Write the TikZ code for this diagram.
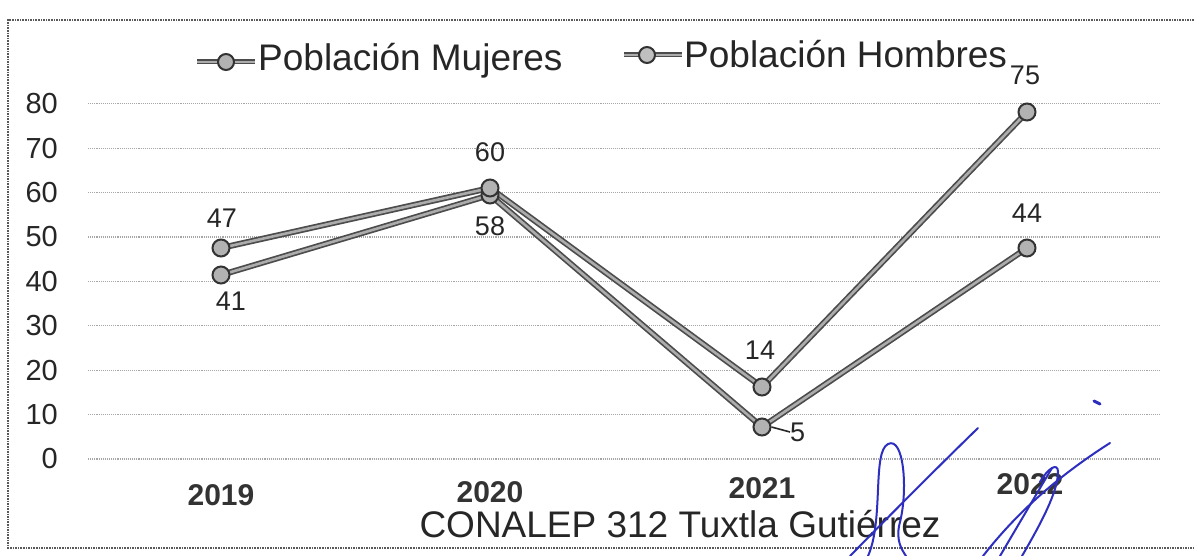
\documentclass[tikz,border=0pt]{standalone}
\usepackage{fontspec}
\setmainfont{Liberation Sans}
\definecolor{ink}{rgb}{0.18,0.18,0.75}
\begin{document}
\begin{tikzpicture}[x=1pt,y=-1pt,
  grid/.style={gray!70, line width=1.1pt, densely dotted},
  frame/.style={gray!70!black, line width=1.6pt, densely dotted},
  tick/.style={font=\fontsize{29}{29}\selectfont, anchor=east, inner sep=0pt, text=black!85},
  year/.style={font=\bfseries\fontsize{30}{30}\selectfont, inner sep=0pt, text=black!80},
  val/.style={font=\fontsize{27}{27}\selectfont, inner sep=0pt, text=black!85},
  leg/.style={font=\fontsize{37}{37}\selectfont, inner sep=0pt, anchor=west, text=black!85},
  outerline/.style={line width=6pt, black!70},
  innerline/.style={line width=2.6pt, gray!65},
  dotmark/.style={circle, draw=black!80, fill=gray!60, line width=2pt, minimum size=17pt, inner sep=0pt},
  sig/.style={ink, line width=2pt, line cap=round}
]
\useasboundingbox (0,0) rectangle (1194,556);
\fill[white] (0,0) rectangle (1194,556);
% frame
\draw[frame] (1194,20) -- (8,20) -- (8,548) -- (1194,548);
% grid and tick labels
\foreach \v [count=\i from 0] in {0,10,20,30,40,50,60,70,80} {
  \draw[grid] (88,{459-\i*44.4}) -- (1160,{459-\i*44.4});
  \node[tick] (t\v) at (58,{459-\i*44.4}) {\v};
}
% data coordinates
\coordinate (a1) at (221,248);
\coordinate (a2) at (490,188);
\coordinate (a3) at (762,387);
\coordinate (a4) at (1027,112);
\coordinate (b1) at (221,275);
\coordinate (b2) at (490,195);
\coordinate (b3) at (762,427);
\coordinate (b4) at (1027,248);
% series lines
\draw[outerline, line join=round] (b1) -- (b2) -- (b3) -- (b4);
\draw[innerline, line join=round] (b1) -- (b2) -- (b3) -- (b4);
\draw[outerline, line join=round] (a1) -- (a2) -- (a3) -- (a4);
\draw[innerline, line join=round] (a1) -- (a2) -- (a3) -- (a4);
% markers
\foreach \p in {b1,b2,b3,b4,a1,a2,a3,a4} { \node[dotmark] (m\p) at (\p) {}; }
% value labels
\node[val] (v47) at (222,218) {47};
\node[val] (v41) at (231,301) {41};
\node[val] (v60) at (490,152) {60};
\node[val] (v58) at (490,226) {58};
\node[val] (v14) at (760,350) {14};
\node[val, anchor=west] (v5) at (790,432) {5};
\node[val] (v75) at (1025,75) {75};
\node[val] (v44) at (1027,213) {44};
\draw[black!85, line width=1.6pt] (mb3.east) -- (v5.west);
% years
\node[year] (y19) at (221,495) {2019};
\node[year] (y20) at (490,492) {2020};
\node[year] (y21) at (762,488) {2021};
\node[year] (y22) at (1030,484) {2022};
% title
\node[font=\fontsize{37}{37}\selectfont, inner sep=0pt, text=black!85] (title) at (680,524) {CONALEP 312 Tuxtla Gutiérrez};
% legend
\coordinate (lm0) at (197,62);
\coordinate (lm1) at (255,62);
\draw[outerline, line width=5pt] (lm0) -- (lm1);
\draw[innerline, line width=2pt] (lm0) -- (lm1);
\node[dotmark, minimum size=16pt] (lmk) at (226,62) {};
\node[leg] (lmt) at (258,61) {Población Mujeres};
\coordinate (lh0) at (624,55);
\coordinate (lh1) at (682,55);
\draw[outerline, line width=5pt] (lh0) -- (lh1);
\draw[innerline, line width=2pt] (lh0) -- (lh1);
\node[dotmark, minimum size=16pt, fill=gray!50] (lhk) at (647,55) {};
\node[leg] (lht) at (684,54) {Población Hombres};
% signature
\draw[sig] (850,556) .. controls (900,505) and (940,465) .. (978,428);
\draw[sig] (868,556) .. controls (884,520) and (872,452) .. (888,444) .. controls (904,436) and (908,490) .. (900,522) .. controls (895,540) and (902,550) .. (906,556);
\draw[sig] (983,556) .. controls (1015,515) and (1055,478) .. (1110,443);
\draw[sig] (1000,556) .. controls (1020,522) and (1040,488) .. (1052,468);
\draw[sig] (1022,556) .. controls (1040,525) and (1058,492) .. (1058,472) .. controls (1058,462) and (1048,468) .. (1040,482);
\draw[sig, line width=3pt] (1094,401) -- (1100,404);
\end{tikzpicture}
\end{document}
